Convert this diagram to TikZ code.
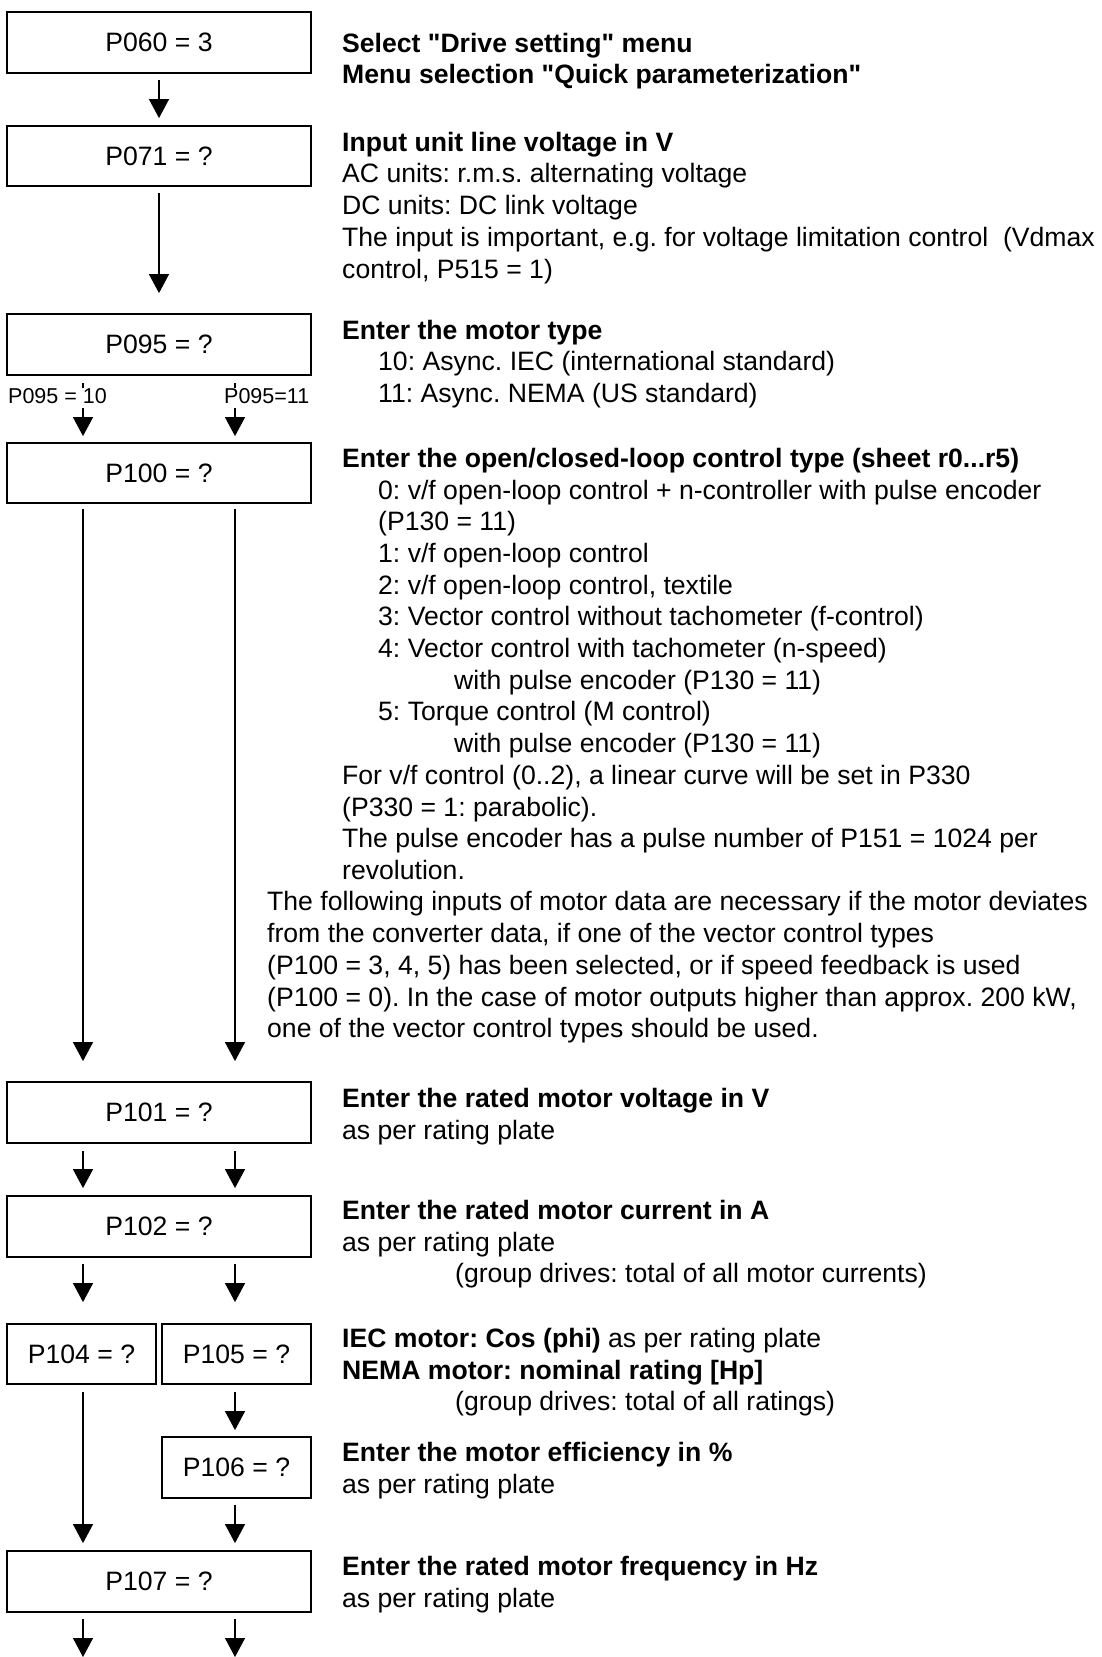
\documentclass[tikz,border=0pt]{standalone}
\usepackage{fontspec}
\setmainfont{Liberation Sans}[Ligatures=TeXOff]
\usetikzlibrary{arrows.meta}
\newcommand\bigtxt{\fontsize{26.6}{31.7}\selectfont}
\newcommand\smalltxt{\fontsize{21.5}{25}\selectfont}
\frenchspacing
\begin{document}
\frenchspacing
\begin{tikzpicture}[x=1pt,y=-1pt,
  box/.style={draw, line width=1.8pt, inner sep=0pt, font=\bigtxt, minimum height=61pt},
  wide/.style={box, minimum width=304pt},
  half/.style={box, minimum width=149pt},
  arr/.style={line width=1.3pt, -{Triangle[width=20pt,length=19pt]}},
  desc/.style={anchor=north west, inner sep=0pt, align=left, font=\bigtxt},
  lbl/.style={anchor=base west, inner sep=0pt, font=\smalltxt, fill=white, text height=15pt, text depth=5pt}]
\useasboundingbox[fill=white] (0,0) rectangle (1102,1657);

% boxes
\node[wide] (P060) at (159,42.5) {P060 = 3};
\node[wide, minimum height=60pt] (P071) at (159,156) {P071 = ?};
\node[wide] (P095) at (159,344.5) {P095 = ?};
\node[wide, minimum height=60pt] (P100) at (159,473) {P100 = ?};
\node[wide] (P101) at (159,1112.5) {P101 = ?};
\node[wide] (P102) at (159,1226.5) {P102 = ?};
\node[half, minimum height=60pt] (P104) at (81.5,1354) {P104 = ?};
\node[half, minimum height=60pt] (P105) at (236.5,1354) {P105 = ?};
\node[half] (P106) at (236.5,1467.5) {P106 = ?};
\node[wide] (P107) at (159,1581.5) {P107 = ?};

\coordinate (cL) at (83,0);
\coordinate (cR) at (235,0);
\coordinate (endL) at (83,1657);
\coordinate (endR) at (235,1657);

% connectors
\draw[arr, shorten <=6pt, shorten >=7pt] (P060) -- (P071);
\draw[arr, shorten <=6pt, shorten >=20pt] (P071) -- (P095);
\draw[arr, shorten <=7pt, shorten >=6pt] (P095.south -| cL) -- (P100.north -| cL);
\draw[arr, shorten <=7pt, shorten >=6pt] (P095.south -| cR) -- (P100.north -| cR);
\draw[arr, shorten <=5pt, shorten >=20pt] (P100.south -| cL) -- (P101.north -| cL);
\draw[arr, shorten <=5pt, shorten >=20pt] (P100.south -| cR) -- (P101.north -| cR);
\draw[arr, shorten <=7pt, shorten >=7pt] (P101.south -| cL) -- (P102.north -| cL);
\draw[arr, shorten <=7pt, shorten >=7pt] (P101.south -| cR) -- (P102.north -| cR);
\draw[arr, shorten <=6pt, shorten >=21pt] (P102.south -| cL) -- (P104.north -| cL);
\draw[arr, shorten <=6pt, shorten >=21pt] (P102.south -| cR) -- (P105.north -| cR);
\draw[arr, shorten <=7pt, shorten >=7pt] (P104.south -| cL) -- (P107.north -| cL);
\draw[arr, shorten <=7pt, shorten >=6pt] (P105.south -| cR) -- (P106.north -| cR);
\draw[arr, shorten <=6pt, shorten >=7pt] (P106.south -| cR) -- (P107.north -| cR);
\draw[arr, shorten <=6pt] (P107.south -| cL) -- (endL);
\draw[arr, shorten <=6pt] (P107.south -| cR) -- (endR);

% branch labels
\node[lbl] (L10) at (8,403) {P095 = 10};
\node[lbl] (L11) at (224,403) {P095=11};

% descriptions
\node[desc] (T060) at (342,29.9) {\strut\textbf{Select "Drive setting" menu}\\
\textbf{Menu selection "Quick parameterization"}};
\node[desc] (T071) at (342,128.9) {\strut\textbf{Input unit line voltage in V}\\
AC units: r.m.s. alternating voltage\\
DC units: DC link voltage\\
The input is important, e.g. for voltage limitation control~ (Vdmax\\
control, P515 = 1)};
\node[desc] (T095) at (342,316.9) {\strut\textbf{Enter the motor type}\\
\hspace*{36pt}10: Async. IEC (international standard)\\
\hspace*{36pt}11: Async. NEMA (US standard)};
\node[desc] (T100) at (342,444.9) {\strut\textbf{Enter the open/closed-loop control type (sheet r0...r5)}\\
\hspace*{36pt}0: v/f open-loop control + n-controller with pulse encoder\\
\hspace*{36pt}(P130 = 11)\\
\hspace*{36pt}1: v/f open-loop control\\
\hspace*{36pt}2: v/f open-loop control, textile\\
\hspace*{36pt}3: Vector control without tachometer (f-control)\\
\hspace*{36pt}4: Vector control with tachometer (n-speed)\\
\hspace*{112pt}with pulse encoder (P130 = 11)\\
\hspace*{36pt}5: Torque control (M control)\\
\hspace*{112pt}with pulse encoder (P130 = 11)\\
For v/f control (0..2), a linear curve will be set in P330\\
(P330 = 1: parabolic).\\
The pulse encoder has a pulse number of P151 = 1024 per\\
revolution.};
\node[desc] (Tfol) at (267,888.5) {\strut The following inputs of motor data are necessary if the motor deviates\\
from the converter data, if one of the vector control types\\
(P100 = 3, 4, 5) has been selected, or if speed feedback is used\\
(P100 = 0). In the case of motor outputs higher than approx. 200 kW,\\
one of the vector control types should be used.};
\node[desc] (T101) at (342,1084.9) {\strut\textbf{Enter the rated motor voltage in V}\\
as per rating plate};
\node[desc] (T102) at (342,1196.9) {\strut\textbf{Enter the rated motor current in A}\\
as per rating plate\\
\hspace*{113pt}(group drives: total of all motor currents)};
\node[desc] (T104) at (342,1324.9) {\strut\textbf{IEC motor: Cos (phi)} as per rating plate\\
\textbf{NEMA motor: nominal rating [Hp]}\\
\hspace*{113pt}(group drives: total of all ratings)};
\node[desc] (T106) at (342,1438.9) {\strut\textbf{Enter the motor efficiency in \%}\\
as per rating plate};
\node[desc] (T107) at (342,1552.9) {\strut\textbf{Enter the rated motor frequency in Hz}\\
as per rating plate};
\end{tikzpicture}
\end{document}
